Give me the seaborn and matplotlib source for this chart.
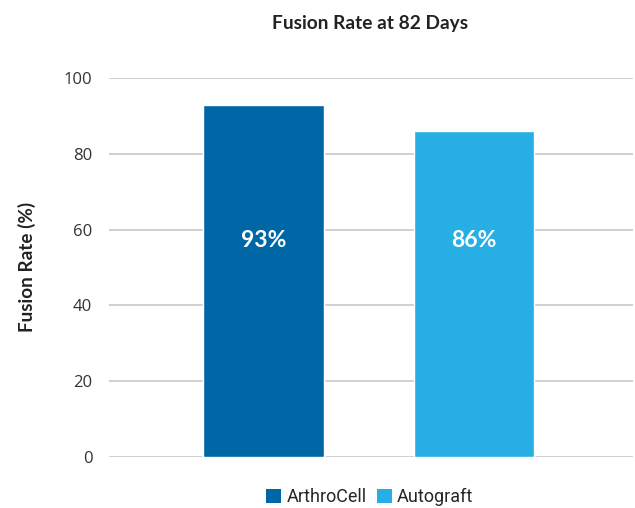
import matplotlib
matplotlib.use("Agg")
import matplotlib.pyplot as plt
from matplotlib.patches import Patch
import seaborn as sns
import pandas as pd

groups = ["ArthroCell", "Autograft"]
rates = [93, 86]
labels = ["93%", "86%"]
colors = ["#0067A6", "#27AFE5"]
yticks = [0, 20, 40, 60, 80, 100]
title = "Fusion Rate at 82 Days"
ylabel = "Fusion Rate (%)"

df = pd.DataFrame({"Group": groups, "Rate": rates})

sns.set_theme(style="white")
plt.rcParams["font.family"] = ["Open Sans", "DejaVu Sans"]

W, H = 635, 508
fig = plt.figure(figsize=(W / 100, H / 100), dpi=100)
ax = fig.add_axes([109 / W, 1 - 457 / H, (633 - 109) / W, (457 - 78) / H])

sns.barplot(data=df, x="Group", y="Rate", hue="Group", palette=colors,
            width=0.573, saturation=1, legend=False, ax=ax, zorder=3)

ax.set_ylim(0, 100)
ax.set_xlim(-0.735, 1.755)
ax.set_yticks(yticks)
ax.set_yticklabels([str(t) for t in yticks], fontsize=12, color="#333333")
ax.set_xticks([])
ax.set_xlabel("")
ax.set_ylabel("")
ax.yaxis.grid(True, color="#c4c4c4", linewidth=1.1, zorder=0)
ax.tick_params(axis="y", length=0, pad=12)
for s in ax.spines.values():
    s.set_visible(False)

fig.text(27 / W, 1 - 267 / H, ylabel, rotation=90, ha="center", va="center",
         fontsize=13.6, fontweight="bold", family="Lato", color="#222222")
fig.text(370 / W, 1 - 23 / H, title, ha="center", va="center",
         fontsize=13.8, fontweight="bold", family="Lato", color="#222222")

for i, (v, lab) in enumerate(zip(rates, labels)):
    ax.text(i, 57, lab, ha="center", va="center", color="white",
            fontsize=16.5, fontweight="bold", family="Lato", zorder=5)

handles = [Patch(facecolor=c, edgecolor="none", label=g) for g, c in zip(groups, colors)]
fig.legend(handles=handles, loc="center", bbox_to_anchor=(370 / W, 1 - 497 / H),
           ncol=2, frameon=False, handlelength=0.8, handleheight=0.8,
           handletextpad=0.3, columnspacing=0.6,
           prop={"family": "Roboto", "size": 13})

fig.savefig("out.png", dpi=100, facecolor="white")
